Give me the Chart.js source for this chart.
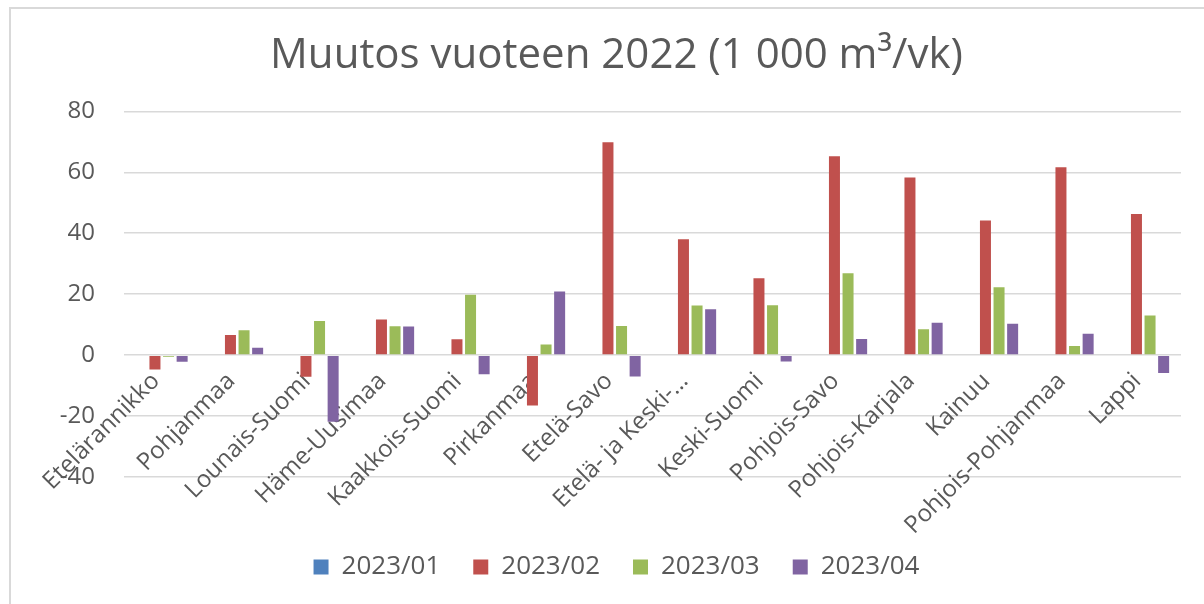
<!DOCTYPE html>
<html>
<head>
<meta charset="utf-8">
<script src="https://cdn.jsdelivr.net/npm/chart.js@4/dist/chart.umd.min.js"></script>
<style>
  html, body { margin: 0; padding: 0; background: #ffffff; overflow: hidden; }
  #wrap { position: relative; width: 1204px; height: 604px; }
  #frame { position: absolute; left: 9px; top: 7px; width: 2000px; height: 2000px;
           border-left: 2px solid #d9d9d9; border-top: 2px solid #d9d9d9; }
  canvas { position: absolute; left: 0; top: 0; }
</style>
</head>
<body>
<div id="wrap">
  <div id="frame"></div>
  <canvas id="c" width="1204" height="604"></canvas>
</div>
<script>
const chartTitle = 'Muutos vuoteen 2022 (1 000 m³/vk)';
const categories = ['Etelärannikko', 'Pohjanmaa', 'Lounais-Suomi', 'Häme-Uusimaa', 'Kaakkois-Suomi',
  'Pirkanmaa', 'Etelä-Savo', 'Etelä- ja Keski-…', 'Keski-Suomi', 'Pohjois-Savo',
  'Pohjois-Karjala', 'Kainuu', 'Pohjois-Pohjanmaa', 'Lappi'];
const seriesNames = ['2023/01', '2023/02', '2023/03', '2023/04'];
const s2023_01 = [0, 0, 0, 0, 0, 0, 0, 0, 0, 0, 0, 0, 0, 0];
const s2023_02 = [-4.7, 6.6, -7.1, 11.7, 5.2, -16.5, 69.9, 38.0, 25.2, 65.3, 58.3, 44.2, 61.7, 46.3];
const s2023_03 = [-0.5, 8.2, 11.2, 9.5, 19.8, 3.5, 9.6, 16.3, 16.4, 26.9, 8.5, 22.3, 3.0, 13.0];
const s2023_04 = [-2.2, 2.4, -21.9, 9.4, -6.3, 20.9, -7.0, 15.1, -2.1, 5.3, 10.6, 10.3, 7.0, -5.9];
const yTicks = [-40, -20, 0, 20, 40, 60, 80];
const seriesColors = ['#4f81bd', '#c0504d', '#9bbb59', '#8064a2'];

const FONT = "'Open Sans', 'Liberation Sans', sans-serif";
const TEXT = '#595959';
const allSeries = [s2023_01, s2023_02, s2023_03, s2023_04];

new Chart(document.getElementById('c'), {
  type: 'bar',
  data: {
    labels: categories,
    datasets: allSeries.map((d, i) => ({
      label: seriesNames[i],
      data: d,
      backgroundColor: seriesColors[i],
      borderWidth: 0,
      categoryPercentage: 0.72,
      barPercentage: 0.81
    }))
  },
  options: {
    responsive: false,
    animation: false,
    layout: { padding: { left: 52, right: 23, top: 0, bottom: 14 } },
    plugins: {
      title: {
        display: true,
        text: chartTitle,
        color: TEXT,
        font: { family: FONT, size: 42, weight: 'normal' },
        padding: { top: 31, bottom: 30 }
      },
      legend: {
        position: 'bottom',
        labels: {
          color: TEXT,
          font: { family: FONT, size: 26 },
          boxWidth: 15,
          boxHeight: 15,
          padding: 33
        }
      },
      tooltip: { enabled: false }
    },
    scales: {
      x: {
        type: 'category',
        position: { y: 0 },
        grid: { display: false, drawTicks: false },
        border: { display: false },
        ticks: {
          color: TEXT,
          font: { family: FONT, size: 24 },
          maxRotation: 45,
          minRotation: 45,
          autoSkip: false,
          padding: 12,
          labelOffset: -6
        },
        afterFit: (s) => { s.paddingLeft = 0; s.paddingRight = 0; }
      },
      xPad: {
        type: 'category',
        position: 'bottom',
        grid: { display: false, drawTicks: false },
        border: { display: false },
        ticks: { display: false },
        afterFit: (s) => { s.height = 44; s.paddingLeft = 0; s.paddingRight = 0; }
      },
      y: {
        min: yTicks[0],
        max: yTicks[yTicks.length - 1],
        afterBuildTicks: (s) => { s.ticks = yTicks.map(v => ({ value: v })); },
        afterFit: (s) => { s.width = 72; },
        grid: { color: '#d9d9d9', lineWidth: 1.6, drawTicks: false },
        border: { display: false },
        ticks: {
          color: TEXT,
          font: { family: FONT, size: 24 },
          padding: 29
        }
      }
    }
  }
});
</script>
</body>
</html>
